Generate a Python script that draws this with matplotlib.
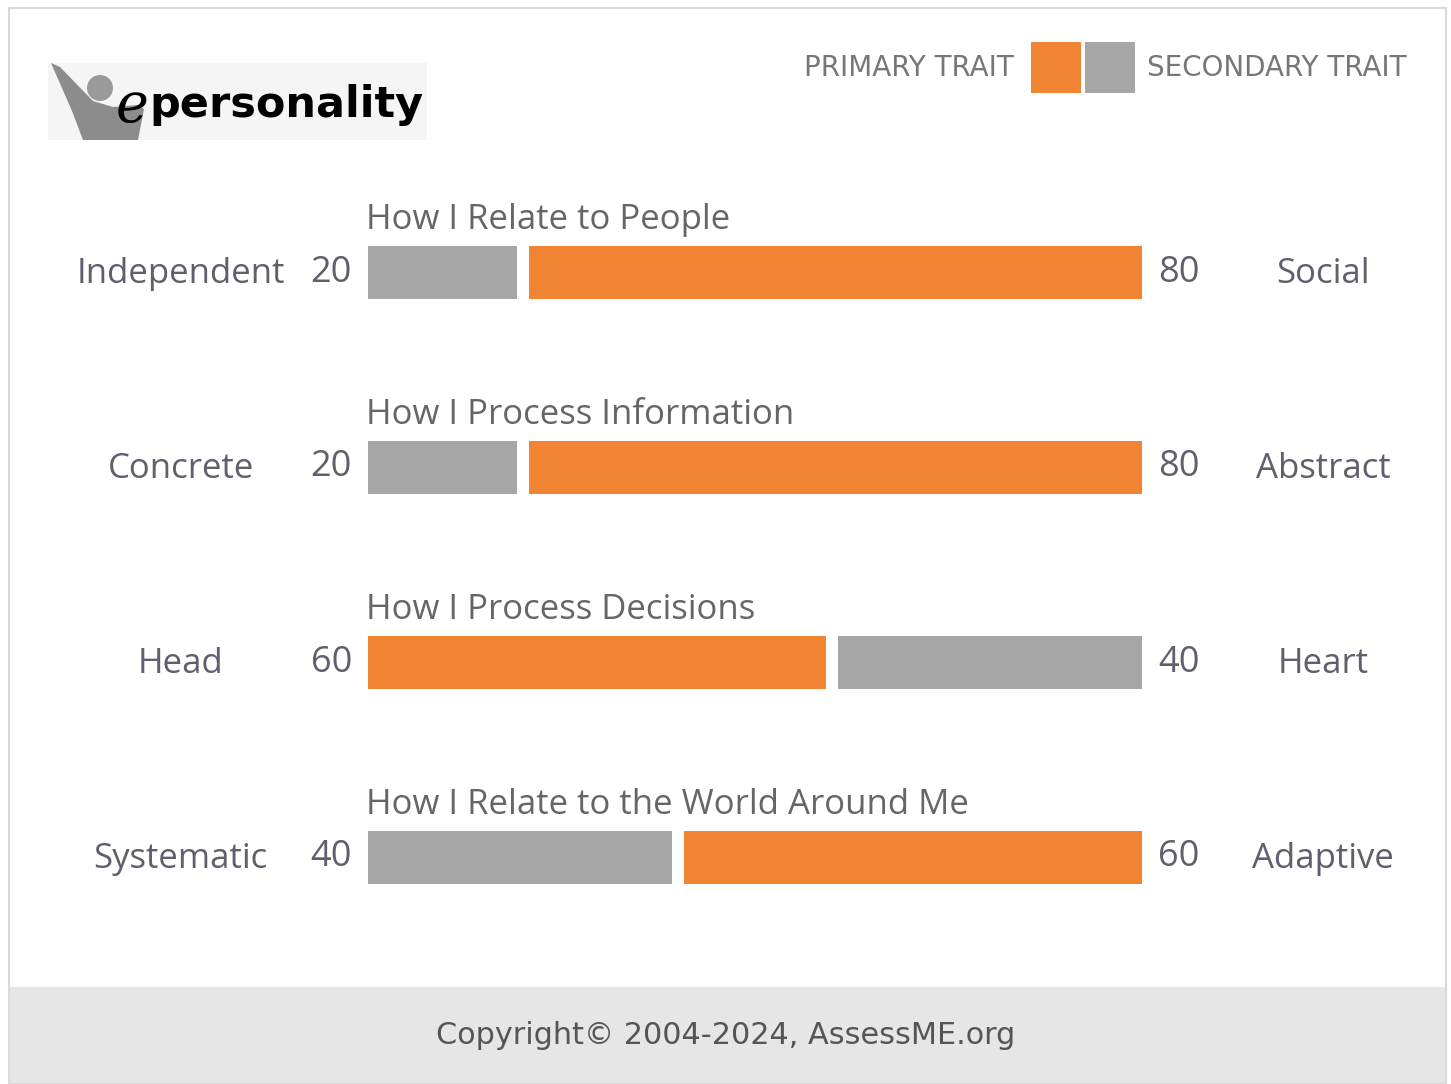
import matplotlib
matplotlib.use('Agg')
import matplotlib.pyplot as plt
from matplotlib.patches import Rectangle, Polygon, Circle

# Data
titles = ['How I Relate to People', 'How I Process Information',
          'How I Process Decisions', 'How I Relate to the World Around Me']
left_traits = ['Independent', 'Concrete', 'Head', 'Systematic']
right_traits = ['Social', 'Abstract', 'Heart', 'Adaptive']
left_scores = [20, 20, 60, 40]
right_scores = [80, 80, 40, 60]

orange = '#F28534'
grey = '#A6A6A6'
text_col = '#5f5f6e'
W, H = 1451, 1084

plt.rcParams['font.family'] = ['Open Sans', 'DejaVu Sans']
fig = plt.figure(figsize=(W / 100, H / 100), dpi=100)

def fx(px):
    return px / W

def fy(py):
    return 1 - py / H

# Frame and footer band
fig.patches.append(Rectangle((fx(9), fy(1083)), fx(1446) - fx(9), fy(8) - fy(1083),
                             transform=fig.transFigure, facecolor='white',
                             edgecolor='#d9d9d9', lw=1.5, zorder=-3))
fig.patches.append(Rectangle((fx(10), fy(1083)), fx(1445) - fx(10), fy(987) - fy(1083),
                             transform=fig.transFigure, facecolor='#e6e6e6',
                             edgecolor='none', zorder=-2))
fig.text(0.5, fy(1036), 'Copyright\u00a9 2004-2024, AssessME.org', ha='center', va='center',
         fontsize=21.8, color='#555555', family='DejaVu Sans')

# Legend
fig.text(fx(1014), fy(68), 'PRIMARY TRAIT', ha='right', va='center', fontsize=20, color='#777777',
         family='DejaVu Sans')
fig.text(fx(1147), fy(68), 'SECONDARY TRAIT', ha='left', va='center', fontsize=20, color='#777777',
         family='DejaVu Sans')
fig.patches.append(Rectangle((fx(1031), fy(93)), fx(1081) - fx(1031), fy(42) - fy(93),
                             transform=fig.transFigure, facecolor=orange, edgecolor='none'))
fig.patches.append(Rectangle((fx(1085), fy(93)), fx(1135) - fx(1085), fy(42) - fy(93),
                             transform=fig.transFigure, facecolor=grey, edgecolor='none'))

# Logo
lax = fig.add_axes([fx(48), fy(140), fx(427) - fx(48), fy(63) - fy(140)])
lax.set_xlim(0, 379)
lax.set_ylim(77, 0)
lax.axis('off')
lax.add_patch(Rectangle((0, 0), 379, 77, facecolor='#f5f5f5', edgecolor='none'))
lax.add_patch(Polygon([(3, 0), (12, 4), (45, 38), (65, 44), (90, 42), (96, 46),
                       (90, 77), (35, 77), (24, 48)],
                      closed=True, facecolor='#8c8c8c', edgecolor='none'))
lax.add_patch(Circle((52, 25), 13, facecolor='#9a9a9a', edgecolor='none'))
lax.text(68, 44, 'e', fontsize=40, style='italic', color='black', va='center', ha='left',
         family='DejaVu Serif')
lax.text(101, 42, 'personality', fontsize=31, fontweight='bold', color='black',
         va='center', ha='left', family='DejaVu Sans')

# Bars
ax = fig.add_axes([fx(368), fy(955), fx(1142) - fx(368), fy(175) - fy(955)])
ax.set_xlim(0, 100)
ax.set_ylim(3.5, -0.5)
ax.axis('off')
gap = 0.78
bar_h = 53 / 195
rows = list(range(len(titles)))
for i in rows:
    lv, rv = left_scores[i], right_scores[i]
    lc = orange if lv > rv else grey
    rc = orange if rv > lv else grey
    ax.barh(i, lv - gap, left=0, height=bar_h, color=lc)
    ax.barh(i, rv - gap, left=lv + gap, height=bar_h, color=rc)
    ax.text(-0.2, i - 0.27, titles[i], ha='left', va='center', fontsize=25, color='#666666')
    ax.text(-24.2, i + 0.01, left_traits[i], ha='center', va='center', fontsize=25, color=text_col)
    ax.text(123.4, i + 0.01, right_traits[i], ha='center', va='center', fontsize=25, color=text_col)
    ax.text(-2.07, i, str(lv), ha='right', va='center', fontsize=26, color=text_col)
    ax.text(102.07, i, str(rv), ha='left', va='center', fontsize=26, color=text_col)

fig.savefig('out.png', dpi=100)
